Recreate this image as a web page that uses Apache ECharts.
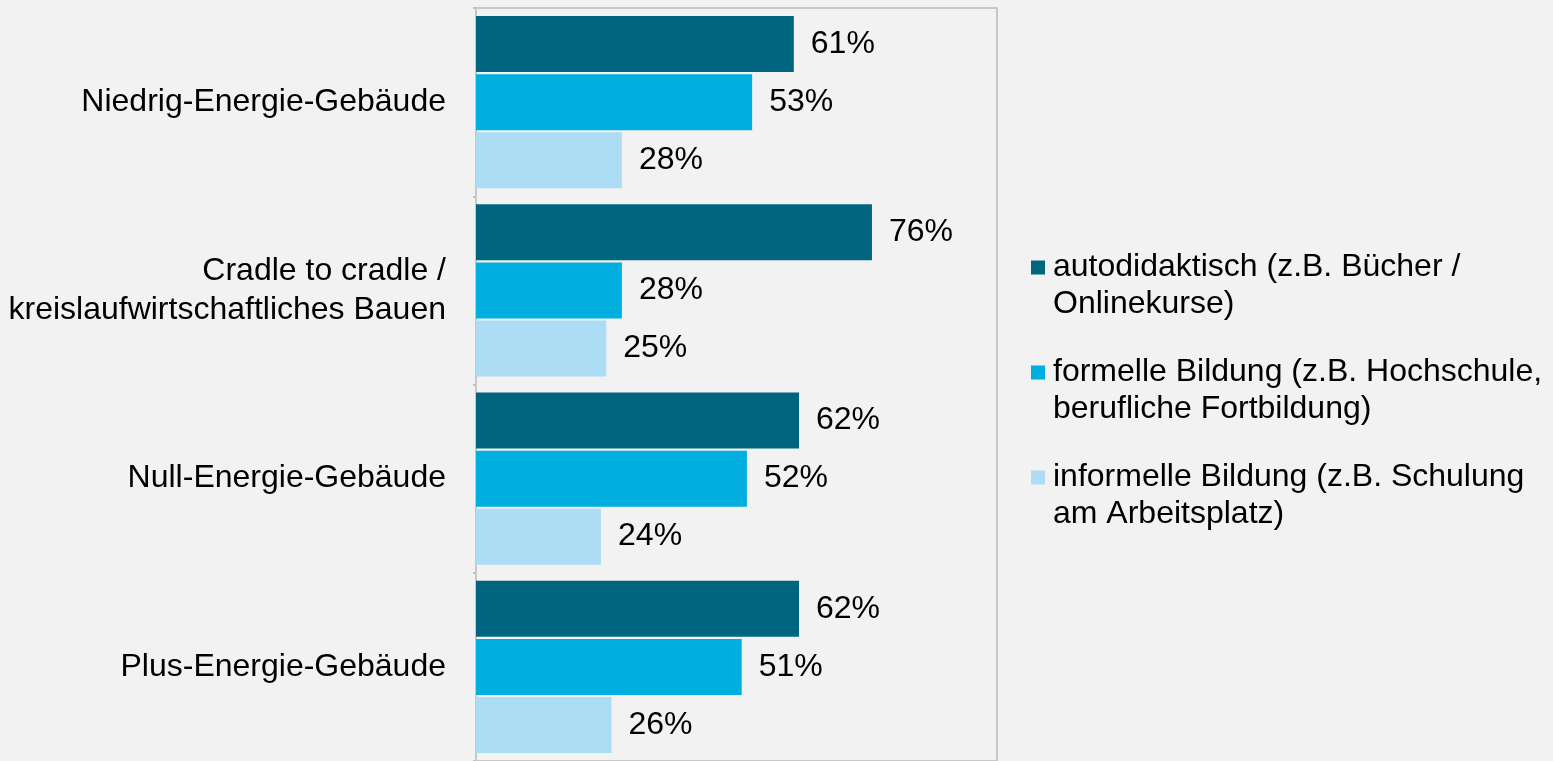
<!DOCTYPE html>
<html><head><meta charset="utf-8">
<script src="https://cdn.jsdelivr.net/npm/echarts@6/dist/echarts.min.js"></script>
<style>html,body{margin:0;padding:0;background:#f2f2f2;}#c{width:1553px;height:761px;}</style>
</head><body><div id="c"></div>
<script>
const categories = ['Niedrig-Energie-Gebäude', 'Cradle to cradle /\nkreislaufwirtschaftliches Bauen', 'Null-Energie-Gebäude', 'Plus-Energie-Gebäude'];
const seriesNames = ['autodidaktisch (z.B. Bücher /\nOnlinekurse)', 'formelle Bildung (z.B. Hochschule,\nberufliche Fortbildung)', 'informelle Bildung (z.B. Schulung\nam Arbeitsplatz)'];
const autodidaktisch = [61, 76, 62, 62];
const formelle = [53, 28, 52, 51];
const informelle = [28, 25, 24, 26];
const colors = ['#006680', '#00AEDF', '#ADDCF5'];
const FONT = '"Liberation Sans", Arial, sans-serif';
const FS = 32;
const LH = 37;

const chart = echarts.init(document.getElementById('c'), null, {renderer: 'canvas'});
const mk = (name, data, i) => ({
  name, type: 'bar', data, barWidth: 56, barGap: '3.6%',
  itemStyle: {color: colors[i]},
  label: {show: true, position: 'right', distance: 17, formatter: '{c}%', color: '#000', fontFamily: FONT, fontSize: FS},
  emphasis: {disabled: true}, animation: false
});
chart.setOption({
  backgroundColor: '#f2f2f2',
  animation: false,
  grid: {left: 476, top: 8, width: 521, height: 756, show: true, borderColor: '#c8c8c8', borderWidth: 2, backgroundColor: 'transparent'},
  xAxis: {type: 'value', min: 0, max: 100, show: false, splitLine: {show: false}},
  yAxis: {
    type: 'category', data: categories, inverse: true,
    axisLine: {show: true, lineStyle: {color: '#c8c8c8', width: 2}},
    axisTick: {show: true, length: 3, lineStyle: {color: '#c0c0c0', width: 2}},
    axisLabel: {color: '#000', fontFamily: FONT, fontSize: FS, lineHeight: 39, margin: 30, align: 'right'}
  },
  legend: {
    orient: 'vertical', left: 1031, top: 212, padding: 0,
    itemWidth: 14, itemHeight: 14, itemGap: -6,
    icon: 'rect',
    data: seriesNames,
    formatter: name => '\n' + name.split('\n').map(l => '{s|}' + l).join('\n'),
    textStyle: {color: '#000', fontFamily: FONT, fontSize: FS, lineHeight: LH,
      rich: {s: {width: 3, height: 1}}},
    selectedMode: false
  },
  series: [mk(seriesNames[0], autodidaktisch, 0), mk(seriesNames[1], formelle, 1), mk(seriesNames[2], informelle, 2)]
});
</script></body></html>
